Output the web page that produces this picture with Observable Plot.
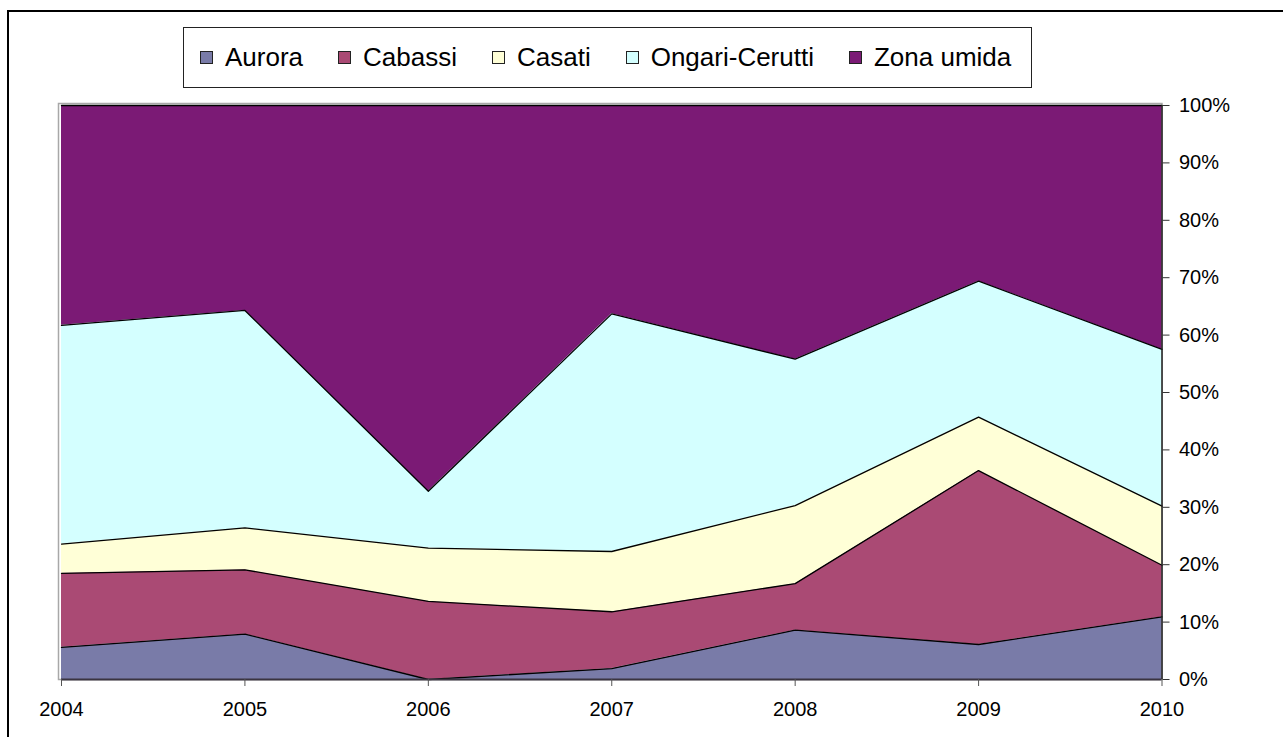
<!DOCTYPE html>
<html>
<head>
<meta charset="utf-8">
<script src="https://cdn.jsdelivr.net/npm/d3@7"></script>
<script src="https://cdn.jsdelivr.net/npm/@observablehq/plot@0.6"></script>
<style>
  html, body { margin: 0; padding: 0; background: #fff; overflow: hidden; }
  #wrap { position: relative; width: 1283px; height: 737px; overflow: hidden; font-family: "Liberation Sans", Arial, sans-serif; }
  #border { position: absolute; left: 7px; top: 10px; width: 1400px; height: 900px; border: 2px solid #000; box-sizing: border-box; }
  #chart { position: absolute; left: 0; top: 0; }
  #legend { position: absolute; left: 183px; top: 27px; width: 849px; height: 61px; box-sizing: border-box;
            border: 1px solid #222; background: #fff; display: flex; align-items: center; padding-left: 16px; }
  .item { display: flex; align-items: center; margin-right: 35px; font-size: 26px; color: #000; white-space: nowrap; }
  .sw { width: 11px; height: 11px; border: 1px solid #222; margin-right: 12px; }
</style>
</head>
<body>
<div id="wrap">
  <div id="border"></div>
  <div id="chart"></div>
  <div id="legend"></div>
</div>
<script>
const years = [2004, 2005, 2006, 2007, 2008, 2009, 2010];
const series = ["Aurora", "Cabassi", "Casati", "Ongari-Cerutti", "Zona umida"];
const aurora  = [5.6, 7.9, 0.0, 1.9, 8.6, 6.1, 10.9];
const cabassi = [12.9, 11.2, 13.6, 9.9, 8.1, 30.3, 9.0];
const casati  = [5.1, 7.3, 9.3, 10.5, 13.6, 9.3, 10.3];
const ongari  = [38.1, 37.9, 9.9, 41.4, 25.5, 23.7, 27.3];
const zona    = [38.3, 35.7, 67.2, 36.3, 44.2, 30.6, 42.5];
const colors  = ["#797BA8", "#AA4A74", "#FFFFD7", "#D4FFFF", "#7B1A75"];
const yTicks  = [0, 0.1, 0.2, 0.3, 0.4, 0.5, 0.6, 0.7, 0.8, 0.9, 1];

const valuesBySeries = [aurora, cabassi, casati, ongari, zona];
const data = [];
series.forEach((s, i) => years.forEach((y, j) => data.push({series: s, year: y, value: valuesBySeries[i][j]})));

const stackOpts = {x: "year", y: "value", z: "series", offset: "normalize", order: series};

const chart = Plot.plot({
  width: 1283,
  height: 737,
  marginLeft: 61,
  marginRight: 121.5,
  marginTop: 105,
  marginBottom: 58,
  style: {fontFamily: "Liberation Sans, Arial, sans-serif", fontSize: "20px", color: "#000", background: "transparent"},
  x: {type: "linear", domain: [2004, 2010]},
  y: {domain: [0, 1]},
  color: {domain: series, range: colors},
  marks: [
    Plot.frame({stroke: "#a8a8a8", insetLeft: -3, insetTop: -2, strokeWidth: 1.5}),
    Plot.areaY(data, Plot.stackY({...stackOpts, fill: "series"})),
    Plot.lineY(data, Plot.stackY2({...stackOpts, stroke: "#000", strokeWidth: 1.3})),
    Plot.ruleY([0], {stroke: "#3a3440", strokeWidth: 2}),
    Plot.ruleX([2010], {stroke: "#222", strokeWidth: 1.5}),
    Plot.axisY({anchor: "right", ticks: yTicks, tickFormat: d3.format(".0%"), tickSize: 7, tickPadding: 10, label: null, stroke: "#333", fontSize: 20}),
    Plot.axisX({ticks: years, tickFormat: d3.format("d"), tickSize: 7, tickPadding: 15, label: null, stroke: "#555", fontSize: 20})
  ]
});
document.getElementById("chart").appendChild(chart);

const legend = document.getElementById("legend");
series.forEach((s, i) => {
  const it = document.createElement("div");
  it.className = "item";
  const sw = document.createElement("span");
  sw.className = "sw";
  sw.style.background = colors[i];
  const t = document.createElement("span");
  t.textContent = s;
  it.appendChild(sw);
  it.appendChild(t);
  legend.appendChild(it);
});
</script>
</body>
</html>
